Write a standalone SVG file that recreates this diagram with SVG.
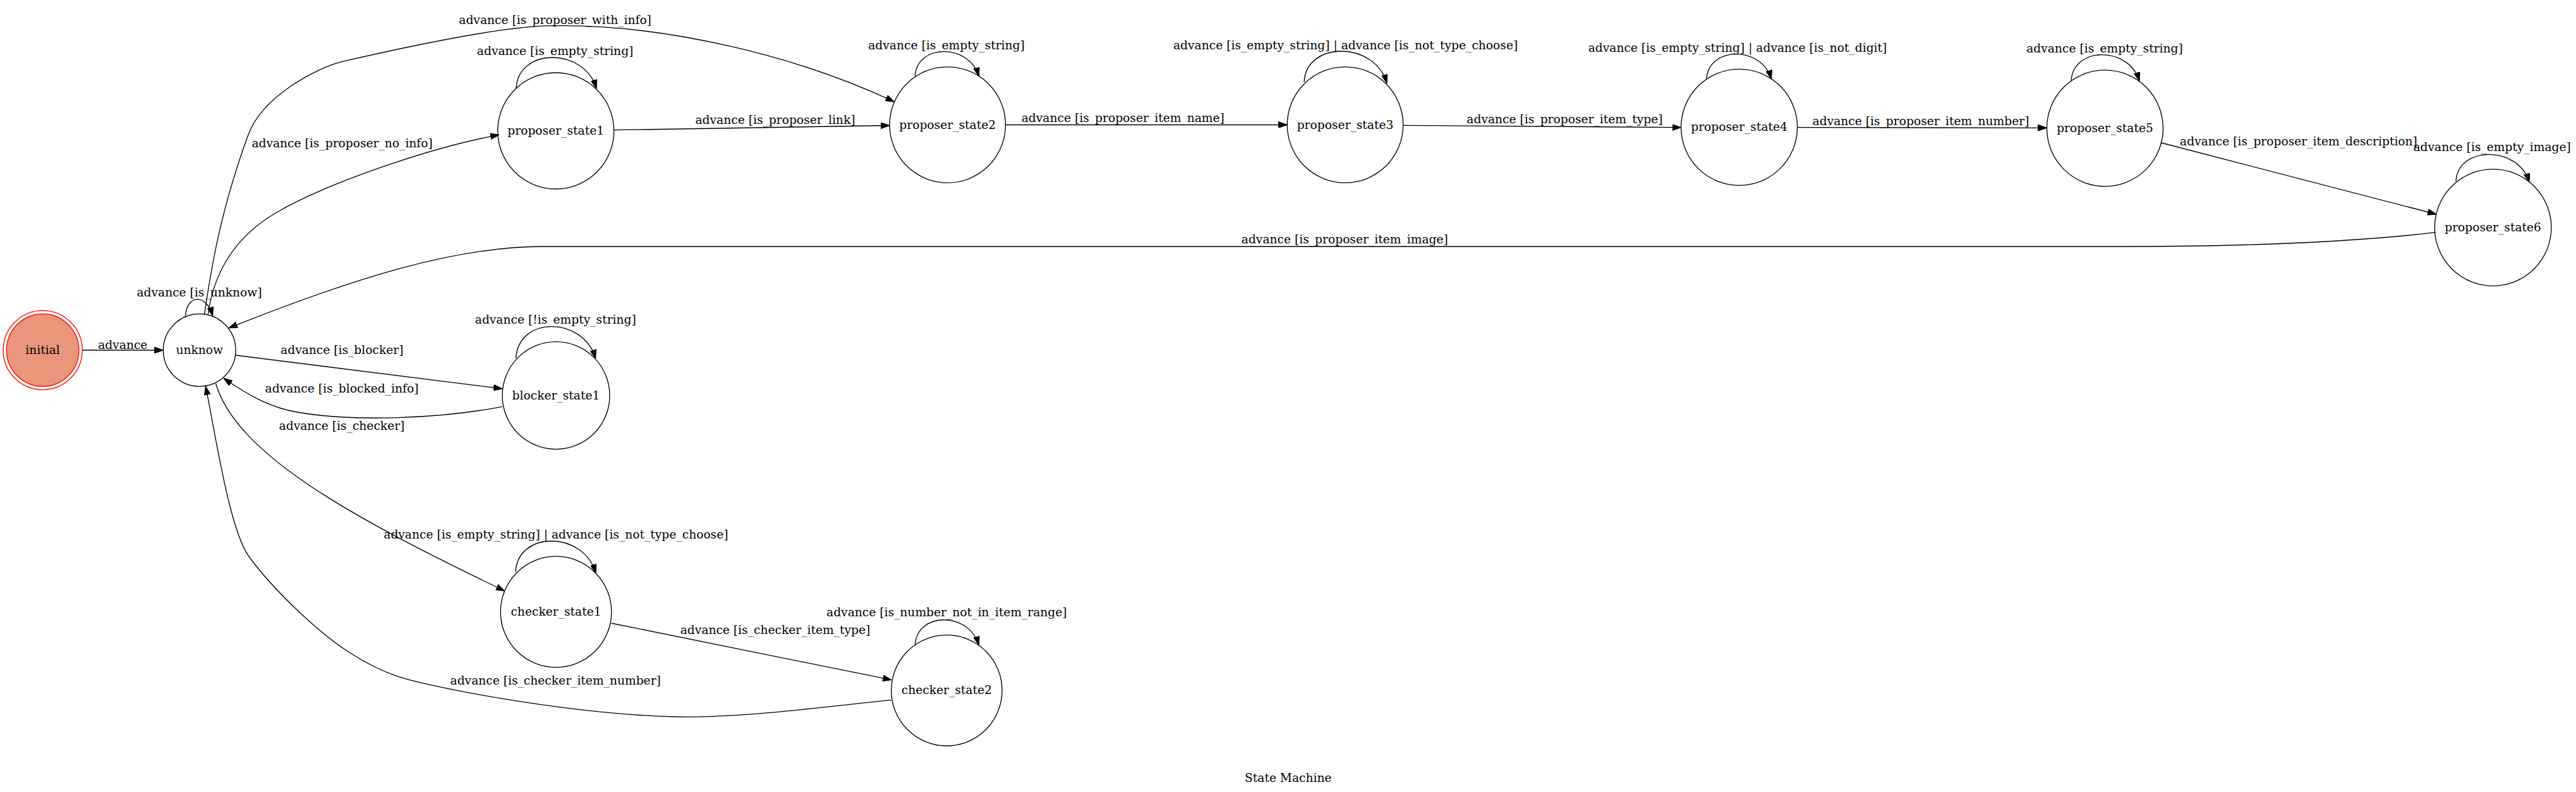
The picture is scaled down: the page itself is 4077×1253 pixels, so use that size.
<svg xmlns="http://www.w3.org/2000/svg" width="4077" height="1253" viewBox="0 0 4077 1253">
<style>
text { font-family: "DejaVu Serif", "Liberation Serif", serif; font-size: 18.67px; fill: #000; text-anchor: middle; }
.node { fill: none; stroke: #000; stroke-width: 1.33; }
.edge { fill: none; stroke: #000; stroke-width: 1.33; marker-end: url(#arrow); }
.init { fill: #e9967a; stroke: #ff0000; stroke-width: 1.33; }
.init2 { fill: none; stroke: #ff0000; stroke-width: 1.33; }
</style>
<defs>
<marker id="arrow" markerUnits="userSpaceOnUse" markerWidth="14" markerHeight="10" viewBox="0 0 13.33 9.33" refX="13.33" refY="4.67" orient="auto">
<path d="M0,0 L13.33,4.67 L0,9.33 z" fill="#000" stroke="#000" stroke-width="1"/>
</marker>
</defs>
<rect x="0" y="0" width="4077" height="1253" fill="#fff"/>
<text x="2038.8" y="1236.7">State Machine</text>

<g id="connectors">
<path class="edge" d="M130.2,554 L258.4,554"/>
<path class="edge" d="M293.3,500 C296.3,464.4 326.7,464.4 336.7,500"/>
<path class="edge" d="M323.3,498.3 C335,420 350,330 392.9,213.3 C415,153 500,107 544.7,96.7 C644.7,73.7 800,40.7 875,40.7 C1050,38 1260,88 1415.4,161"/>
<path class="edge" d="M329.3,497.3 C340,420 380,370 436.7,336.7 C514.3,291.1 680,233.3 790,213.3"/>
<path class="edge" d="M817,140 C820,74.7 925.1,74.7 944,140"/>
<path class="edge" d="M971.7,205.7 L1408,198.5"/>
<path class="edge" d="M1448.3,120 C1451.3,68.8 1534.3,68.8 1549.3,120.7"/>
<path class="edge" d="M1591.4,197.5 L2037.3,197.5"/>
<path class="edge" d="M2064,130 C2067,64.4 2175.5,64.4 2195,131.7"/>
<path class="edge" d="M2220.7,198.3 L2660.6,201.7"/>
<path class="edge" d="M2701,125 C2704,72.6 2788.4,72.6 2803.6,125"/>
<path class="edge" d="M2844.6,201.7 L3239.5,202.3"/>
<path class="edge" d="M3278,128.3 C3281,72.8 3369.9,72.8 3386,128.3"/>
<path class="edge" d="M3421,226 L3856,339"/>
<path class="edge" d="M3887,286.7 C3890,229.9 3986.1,229.9 4003,288.3"/>
<path class="edge" d="M3854.6,367.7 C3700,386 3500,390 3370,390 L860,390 C720,390 560,440 362,519"/>
<path class="edge" d="M373,562 L795,615"/>
<path class="edge" d="M816.7,566.7 C819.7,499.9 923.2,499.9 942.7,567.3"/>
<path class="edge" d="M795,643.3 C700,662 560,668 470,652 C430,645 395,627 354,598.3"/>
<path class="edge" d="M341.5,606.7 C375,720 560,820 798.9,935"/>
<path class="edge" d="M816,905 C819,839.4 923.5,839.4 943,906.7"/>
<path class="edge" d="M967.6,986 L1411,1075.7"/>
<path class="edge" d="M1448.3,1020 C1451.3,967.5 1533.9,967.5 1549.3,1020.7"/>
<path class="edge" d="M1410.7,1107.7 C1353.9,1112.1 1183.7,1136.4 1070,1134 C956.3,1131.6 814.4,1110.1 728.5,1093.3 C642.6,1076.5 610.3,1068.9 554.5,1033.3 C498.7,997.7 427.8,927.2 393.7,880 C363.7,838.5 341.5,691 325.5,611"/>

<text x="194.3" y="551.5">advance</text>
<text x="315.5" y="469">advance [is_unknow]</text>
<text x="878.6" y="37.5">advance [is_proposer_with_info]</text>
<text x="878.6" y="86.5">advance [is_empty_string]</text>
<text x="541.6" y="233">advance [is_proposer_no_info]</text>
<text x="1227" y="195.5">advance [is_proposer_link]</text>
<text x="1498" y="78">advance [is_empty_string]</text>
<text x="1777.3" y="193">advance [is_proposer_item_name]</text>
<text x="2129.6" y="77.5">advance [is_empty_string] | advance [is_not_type_choose]</text>
<text x="2476.5" y="194.5">advance [is_proposer_item_type]</text>
<text x="2750" y="81.5">advance [is_empty_string] | advance [is_not_digit]</text>
<text x="3040" y="198">advance [is_proposer_item_number]</text>
<text x="3331" y="83">advance [is_empty_string]</text>
<text x="3638" y="229.5">advance [is_proposer_item_description]</text>
<text x="3944.2" y="238.5">advance [is_empty_image]</text>
<text x="2128.3" y="385">advance [is_proposer_item_image]</text>
<text x="541.3" y="560">advance [is_blocker]</text>
<text x="879.3" y="512.3">advance [!is_empty_string]</text>
<text x="541" y="621">advance [is_blocked_info]</text>
<text x="541" y="680">advance [is_checker]</text>
<text x="879.9" y="851.5">advance [is_empty_string] | advance [is_not_type_choose]</text>
<text x="1227" y="1003.4">advance [is_checker_item_type]</text>
<text x="1498.3" y="975">advance [is_number_not_in_item_range]</text>
<text x="879.2" y="1083">advance [is_checker_item_number]</text>
</g>

<g id="initial">
<circle class="init" cx="67.6" cy="554" r="57.3"/>
<circle class="init2" cx="67.6" cy="554" r="62.6"/>
<text x="67.6" y="560">initial</text>
</g>
<g id="unknow">
<circle class="node" cx="315.7" cy="554" r="57.3"/>
<text x="315.7" y="560">unknow</text>
</g>
<g id="proposer_state1">
<circle class="node" cx="879.7" cy="207" r="92"/>
<text x="879.7" y="213">proposer_state1</text>
</g>
<g id="proposer_state2">
<circle class="node" cx="1499.7" cy="197.5" r="91.7"/>
<text x="1499.7" y="203.5">proposer_state2</text>
</g>
<g id="proposer_state3">
<circle class="node" cx="2129" cy="197.5" r="91.7"/>
<text x="2129" y="203.5">proposer_state3</text>
</g>
<g id="proposer_state4">
<circle class="node" cx="2752.6" cy="201.3" r="92"/>
<text x="2752.6" y="207.3">proposer_state4</text>
</g>
<g id="proposer_state5">
<circle class="node" cx="3331.5" cy="202.8" r="92"/>
<text x="3331.5" y="208.8">proposer_state5</text>
</g>
<g id="proposer_state6">
<circle class="node" cx="3945.6" cy="360" r="92.3"/>
<text x="3945.6" y="366">proposer_state6</text>
</g>
<g id="blocker_state1">
<circle class="node" cx="880" cy="625.7" r="85"/>
<text x="880" y="631.7">blocker_state1</text>
</g>
<g id="checker_state1">
<circle class="node" cx="880" cy="968" r="87.8"/>
<text x="880" y="974">checker_state1</text>
</g>
<g id="checker_state2">
<circle class="node" cx="1498.3" cy="1092.3" r="87.7"/>
<text x="1498.3" y="1098.3">checker_state2</text>
</g>
</svg>
